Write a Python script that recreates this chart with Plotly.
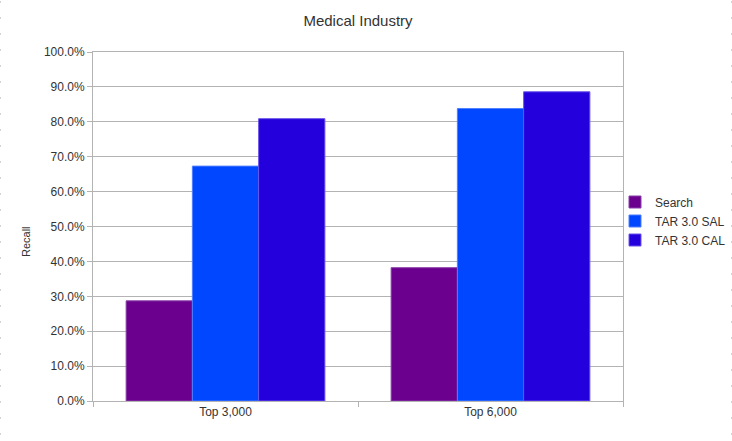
import plotly.graph_objects as go

categories = ["Top 3,000", "Top 6,000"]
search = [0.287, 0.382]
tar_sal = [0.673, 0.838]
tar_cal = [0.809, 0.886]
y_ticks = [i / 10 for i in range(11)]

series = [
    ("Search", search, "#6b008f", "#8a40a8"),
    ("TAR 3.0 SAL", tar_sal, "#0047ff", "#4d7fff"),
    ("TAR 3.0 CAL", tar_cal, "#2300dc", "#6a55ea"),
]

fig = go.Figure()
for name, vals, color, line in series:
    fig.add_trace(go.Bar(
        x=categories, y=vals, name=name,
        marker=dict(color=color, line=dict(color=line, width=1)),
    ))

L, R, T, B = 93, 109, 52, 40
W, H = 732, 441
pw, ph = W - L - R, H - T - B

def px_x(x):
    return (x - L) / pw

def px_y(y):
    return (H - B - y) / ph

# page-edge dotted borders
shapes = []
for xp in (0.5, 731.5):
    shapes.append(dict(type="line", xref="paper", yref="paper",
                       x0=px_x(xp), x1=px_x(xp), y0=px_y(1.5), y1=px_y(H),
                       line=dict(color="#aaaaaa", width=1, dash="1px,15px")))

font = "Liberation Sans, Arial, sans-serif"
fig.update_layout(
    width=W, height=H,
    margin=dict(l=L, r=R, t=T, b=B, autoexpand=False),
    paper_bgcolor="white", plot_bgcolor="white",
    barmode="group", bargap=0.25, bargroupgap=0,
    font=dict(family=font, size=12, color="#333333"),
    title=dict(text="Medical Industry", x=0.5, xref="paper", xanchor="center",
               y=1 - 21 / H, yanchor="middle", yref="container",
               font=dict(size=15, color="#333333")),
    showlegend=True,
    legend=dict(x=px_x(615), xanchor="left", y=px_y(221), yanchor="middle",
                font=dict(size=12, color="#333333"), itemwidth=30,
                bgcolor="rgba(0,0,0,0)", tracegroupgap=0),
    xaxis=dict(type="category", showline=True, linecolor="#b3b3b3", linewidth=1,
               mirror=True, ticks="outside", tickson="boundaries", ticklen=5,
               tickcolor="#b3b3b3", showgrid=False, tickfont=dict(size=12)),
    yaxis=dict(range=[0, 1], tickvals=y_ticks, tickformat=".1%", showline=True,
               linecolor="#b3b3b3", linewidth=1, mirror=True, ticks="outside",
               ticklen=5, tickcolor="#b3b3b3", showgrid=True, gridcolor="#b3b3b3",
               gridwidth=1, zeroline=False, tickfont=dict(size=12)),
    annotations=[dict(text="Recall", x=px_x(26), y=px_y(242), xref="paper", yref="paper",
                      xanchor="center", yanchor="middle",
                      showarrow=False, textangle=-90, font=dict(size=11, color="#333333"))],
    shapes=shapes,
)
fig.write_html("out.html", config={"displayModeBar": False},
               post_script="document.body.style.margin='0';")
